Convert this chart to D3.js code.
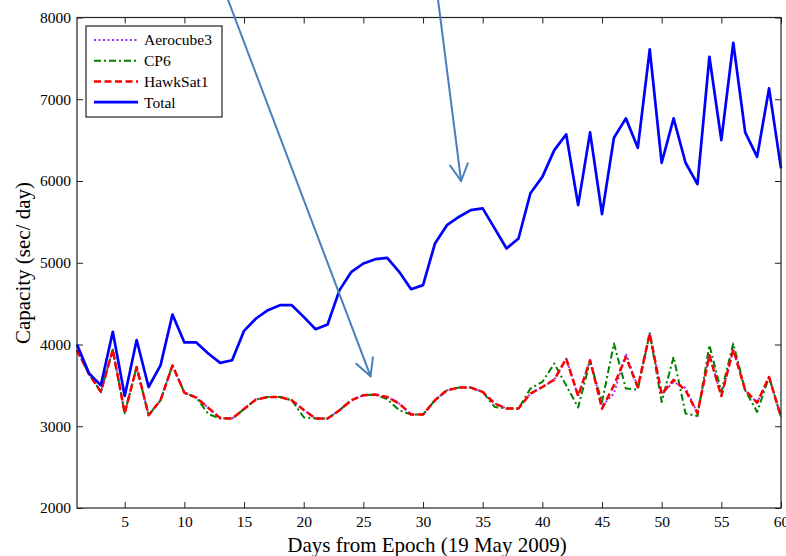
<!DOCTYPE html>
<html>
<head>
<meta charset="utf-8">
<script src="https://cdn.jsdelivr.net/npm/d3@7"></script>
<style>
  html, body { margin: 0; padding: 0; background: #fff; }
  svg { display: block; font-family: "Liberation Serif", "DejaVu Serif", serif; }
</style>
</head>
<body>
<svg id="chart" width="786" height="556"></svg>
<script>
// ---- data ----
const days = d3.range(1, 61);
const total = [4000,3650,3500,4155,3370,4055,3480,3745,4367,4025,4025,3890,3775,3807,4167,4318,4420,4481,4481,4338,
               4187,4245,4665,4889,4991,5044,5060,4889,4677,4726,5236,5460,5560,5644,5665,5420,5175,5297,5850,6050,
               6378,6570,5705,6595,5595,6529,6766,6406,7610,6223,6766,6223,5962,7520,6500,7691,6595,6296,7133,6154];
const hawkSat1 = [3930,3640,3420,3935,3160,3726,3135,3318,3745,3410,3350,3225,3100,3094,3210,3327,3358,3358,3318,3200,
                  3094,3094,3196,3318,3380,3388,3358,3278,3143,3143,3318,3440,3473,3473,3420,3278,3217,3217,3400,3480,
                  3570,3828,3370,3808,3215,3500,3848,3478,4135,3396,3567,3440,3160,3869,3370,3940,3440,3288,3603,3114];
const cp6 = [3930,3640,3420,3935,3160,3726,3135,3318,3745,3410,3350,3150,3094,3094,3210,3327,3358,3358,3318,3110,
             3094,3094,3196,3318,3380,3388,3330,3196,3143,3143,3318,3440,3473,3473,3420,3236,3217,3217,3461,3542,
             3767,3500,3229,3790,3297,4012,3462,3449,4135,3297,3848,3155,3126,3991,3420,4012,3440,3175,3603,3114];
const aerocube3 = [3930,3640,3420,3935,3160,3726,3135,3318,3745,3410,3350,3225,3100,3094,3210,3327,3358,3358,3318,3200,
                   3094,3094,3196,3318,3380,3388,3358,3278,3143,3143,3318,3440,3473,3473,3420,3278,3217,3217,3400,3480,
                   3570,3828,3370,3808,3250,3400,3889,3478,4135,3396,3540,3470,3160,3869,3370,3940,3440,3288,3603,3114];
const xTicks = [5,10,15,20,25,30,35,40,45,50,55,60];
const yTicks = [2000,3000,4000,5000,6000,7000,8000];
const seriesNames = ["Aerocube3", "CP6", "HawkSat1", "Total"];
// annotation arrows: [start, tip] in data units (day, sec/day)
const arrowStarts = [[13.66, 8214], [31.26, 8214]];
const arrowTips   = [[25.6, 3612], [33.19, 6000]];

// ---- setup ----
const svg = d3.select("#chart");
const W = 786, H = 556;
const m = {left: 77, right: 5, top: 17.5, bottom: 48};
const x = d3.scaleLinear().domain([1, 60]).range([m.left, W - m.right]);
const y = d3.scaleLinear().domain([2000, 8000]).range([H - m.bottom, m.top]);

const styles = {
  "Aerocube3": {color: "#9b30ff", dash: "2,2.5", width: 2},
  "CP6":       {color: "#008000", dash: "7,3,2,3", width: 2},
  "HawkSat1":  {color: "#ff0000", dash: "7,3.5", width: 2.5},
  "Total":     {color: "#0000ff", dash: null, width: 2.7}
};
const seriesData = {"Aerocube3": aerocube3, "CP6": cp6, "HawkSat1": hawkSat1, "Total": total};

// axes (MATLAB-style box with inward ticks)
const fmt = d3.format("d");
svg.append("g").attr("transform", `translate(0,${y.range()[0]})`)
  .call(d3.axisBottom(x).tickValues(xTicks).tickSizeInner(-6).tickSizeOuter(0).tickPadding(8).tickFormat(fmt))
  .call(g => g.select(".domain").remove());
svg.append("g").attr("transform", `translate(0,${y.range()[1]})`)
  .call(d3.axisTop(x).tickValues(xTicks).tickSizeInner(-6).tickSizeOuter(0).tickFormat(""))
  .call(g => g.select(".domain").remove());
svg.append("g").attr("transform", `translate(${x.range()[0]},0)`)
  .call(d3.axisLeft(y).tickValues(yTicks).tickSizeInner(-6).tickSizeOuter(0).tickPadding(6).tickFormat(fmt))
  .call(g => g.select(".domain").remove());
svg.append("g").attr("transform", `translate(${x.range()[1]},0)`)
  .call(d3.axisRight(y).tickValues(yTicks).tickSizeInner(-6).tickSizeOuter(0).tickFormat(""))
  .call(g => g.select(".domain").remove());
svg.selectAll(".tick text").attr("font-family", "Liberation Serif").attr("font-size", 15.5).attr("fill", "#000");
svg.selectAll(".tick line").attr("stroke", "#222");

// lines
const line = d3.line().x((d, i) => x(days[i])).y(d => y(d));
seriesNames.forEach(name => {
  const s = styles[name];
  svg.append("path")
    .datum(seriesData[name])
    .attr("fill", "none")
    .attr("stroke", s.color)
    .attr("stroke-width", s.width)
    .attr("stroke-dasharray", s.dash)
    .attr("stroke-linejoin", "round")
    .attr("d", line);
});

// box frame
svg.append("rect")
  .attr("x", x.range()[0]).attr("y", y.range()[1])
  .attr("width", x.range()[1] - x.range()[0]).attr("height", y.range()[0] - y.range()[1])
  .attr("fill", "none").attr("stroke", "#222").attr("stroke-width", 1.2);

// legend
const lg = svg.append("g").attr("transform", "translate(86,26)");
lg.append("rect").attr("width", 136).attr("height", 91)
  .attr("fill", "#fff").attr("stroke", "#222").attr("stroke-width", 1.2);
seriesNames.forEach((name, i) => {
  const s = styles[name];
  const yy = 14 + i * 20.7;
  lg.append("line").attr("x1", 8).attr("x2", 52).attr("y1", yy).attr("y2", yy)
    .attr("stroke", s.color).attr("stroke-width", s.width).attr("stroke-dasharray", s.dash);
  lg.append("text").attr("x", 58).attr("y", yy).attr("dy", "0.35em")
    .attr("font-size", 15.5).attr("fill", "#000").text(name);
});

// axis labels
svg.append("text").attr("x", 427).attr("y", 552)
  .attr("text-anchor", "middle").attr("font-size", 21).attr("fill", "#000")
  .text("Days from Epoch (19 May 2009)");
svg.append("text").attr("transform", "translate(30,263) rotate(-90)")
  .attr("text-anchor", "middle").attr("font-size", 21).attr("fill", "#000")
  .text("Capacity (sec/ day)");

// annotation arrows
const arrowColor = "#4a7ebb";
arrowStarts.forEach((st, i) => {
  const p0 = [x(st[0]), y(st[1])];
  const p1 = [x(arrowTips[i][0]), y(arrowTips[i][1])];
  const g = svg.append("g").attr("stroke", arrowColor).attr("stroke-width", 2).attr("fill", "none")
    .attr("stroke-linecap", "round");
  g.append("line").attr("x1", p0[0]).attr("y1", p0[1]).attr("x2", p1[0]).attr("y2", p1[1]);
  const ang = Math.atan2(p0[1] - p1[1], p0[0] - p1[0]);
  const L = 19, a = 28 * Math.PI / 180;
  [-a, a].forEach(da => {
    g.append("line").attr("x1", p1[0]).attr("y1", p1[1])
      .attr("x2", p1[0] + L * Math.cos(ang + da)).attr("y2", p1[1] + L * Math.sin(ang + da));
  });
});
</script>
</body>
</html>
